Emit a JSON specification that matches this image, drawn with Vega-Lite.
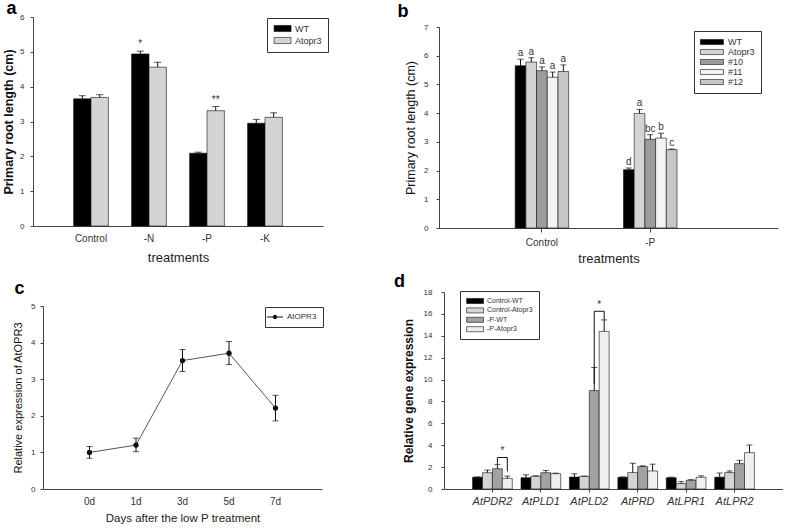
{
  "$schema": "https://vega.github.io/schema/vega-lite/v6.json",
  "background": "white",
  "padding": {"left": 2, "top": 0, "right": 0, "bottom": 0},
  "config": {
    "font": "Liberation Sans",
    "view": {"stroke": null},
    "axis": {"grid": false, "domainColor": "#444", "tickColor": "#444", "labelColor": "#333", "titleColor": "#111", "labelFontSize": 8, "tickSize": 3, "labelFont": "Liberation Sans", "titleFont": "Liberation Sans", "labelOverlap": false, "labelBound": false},
    "legend": {"labelFont": "Liberation Sans", "labelColor": "#333"},
    "title": {"font": "Liberation Sans", "color": "#000"}
  },
  "datasets": {
    "a": [
      {"treatment": "Control", "genotype": "WT", "value": 3.65, "hi": 3.74, "sig": ""},
      {"treatment": "Control", "genotype": "Atopr3", "value": 3.69, "hi": 3.77, "sig": ""},
      {"treatment": "-N", "genotype": "WT", "value": 4.94, "hi": 5.02, "sig": "*"},
      {"treatment": "-N", "genotype": "Atopr3", "value": 4.56, "hi": 4.7, "sig": ""},
      {"treatment": "-P", "genotype": "WT", "value": 2.09, "hi": 2.12, "sig": ""},
      {"treatment": "-P", "genotype": "Atopr3", "value": 3.31, "hi": 3.43, "sig": "**"},
      {"treatment": "-K", "genotype": "WT", "value": 2.95, "hi": 3.06, "sig": ""},
      {"treatment": "-K", "genotype": "Atopr3", "value": 3.12, "hi": 3.25, "sig": ""}
    ],
    "b": [
      {"treatment": "Control", "line": "WT", "value": 5.65, "hi": 5.88, "letter": "a"},
      {"treatment": "Control", "line": "Atopr3", "value": 5.78, "hi": 5.93, "letter": "a"},
      {"treatment": "Control", "line": "#10", "value": 5.48, "hi": 5.61, "letter": "a"},
      {"treatment": "Control", "line": "#11", "value": 5.25, "hi": 5.43, "letter": "a"},
      {"treatment": "Control", "line": "#12", "value": 5.45, "hi": 5.68, "letter": "a"},
      {"treatment": "-P", "line": "WT", "value": 2.03, "hi": 2.09, "letter": "d"},
      {"treatment": "-P", "line": "Atopr3", "value": 3.99, "hi": 4.13, "letter": "a"},
      {"treatment": "-P", "line": "#10", "value": 3.09, "hi": 3.25, "letter": "bc"},
      {"treatment": "-P", "line": "#11", "value": 3.13, "hi": 3.3, "letter": "b"},
      {"treatment": "-P", "line": "#12", "value": 2.73, "hi": 2.75, "letter": "c"}
    ],
    "c": [
      {"day": "0d", "value": 1.0, "lo": 0.84, "hi": 1.16, "series": "AtOPR3"},
      {"day": "1d", "value": 1.2, "lo": 1.02, "hi": 1.39, "series": "AtOPR3"},
      {"day": "3d", "value": 3.51, "lo": 3.21, "hi": 3.81, "series": "AtOPR3"},
      {"day": "5d", "value": 3.71, "lo": 3.4, "hi": 4.03, "series": "AtOPR3"},
      {"day": "7d", "value": 2.21, "lo": 1.86, "hi": 2.56, "series": "AtOPR3"}
    ],
    "d": [
      {"gene": "AtPDR2", "cond": "Control-WT", "value": 1.08, "hi": 1.1},
      {"gene": "AtPDR2", "cond": "Control-Atopr3", "value": 1.49, "hi": 1.73},
      {"gene": "AtPDR2", "cond": "-P-WT", "value": 1.85, "hi": 2.25},
      {"gene": "AtPDR2", "cond": "-P-Atopr3", "value": 0.97, "hi": 1.18},
      {"gene": "AtPLD1", "cond": "Control-WT", "value": 1.03, "hi": 1.3},
      {"gene": "AtPLD1", "cond": "Control-Atopr3", "value": 1.17, "hi": 1.2},
      {"gene": "AtPLD1", "cond": "-P-WT", "value": 1.49, "hi": 1.7},
      {"gene": "AtPLD1", "cond": "-P-Atopr3", "value": 1.4, "hi": 1.45},
      {"gene": "AtPLD2", "cond": "Control-WT", "value": 1.09, "hi": 1.4},
      {"gene": "AtPLD2", "cond": "Control-Atopr3", "value": 1.15, "hi": 1.18},
      {"gene": "AtPLD2", "cond": "-P-WT", "value": 8.99, "hi": 11.1},
      {"gene": "AtPLD2", "cond": "-P-Atopr3", "value": 14.4, "hi": 15.45},
      {"gene": "AtPRD", "cond": "Control-WT", "value": 1.07, "hi": 1.1},
      {"gene": "AtPRD", "cond": "Control-Atopr3", "value": 1.5, "hi": 2.35},
      {"gene": "AtPRD", "cond": "-P-WT", "value": 2.05, "hi": 2.12},
      {"gene": "AtPRD", "cond": "-P-Atopr3", "value": 1.65, "hi": 2.27},
      {"gene": "AtLPR1", "cond": "Control-WT", "value": 1.03, "hi": 1.08},
      {"gene": "AtLPR1", "cond": "Control-Atopr3", "value": 0.5, "hi": 0.67},
      {"gene": "AtLPR1", "cond": "-P-WT", "value": 0.8, "hi": 0.85},
      {"gene": "AtLPR1", "cond": "-P-Atopr3", "value": 1.07, "hi": 1.2},
      {"gene": "AtLPR2", "cond": "Control-WT", "value": 1.08, "hi": 1.46},
      {"gene": "AtLPR2", "cond": "Control-Atopr3", "value": 1.5, "hi": 1.65},
      {"gene": "AtLPR2", "cond": "-P-WT", "value": 2.32, "hi": 2.62},
      {"gene": "AtLPR2", "cond": "-P-Atopr3", "value": 3.32, "hi": 4.02}
    ],
    "dbr": [
      {"gene": "AtPDR2", "top": 2.88, "lo1": 2.3, "lo2": 1.6, "star": "*"},
      {"gene": "AtPLD2", "top": 16.24, "lo1": 9.6, "lo2": 15.45, "star": "*"}
    ]
  },
  "spacing": 8,
  "bounds": "full",
  "resolve": {"scale": {"color": "independent", "x": "independent", "y": "independent", "xOffset": "independent"}, "legend": {"color": "independent"}},
  "vconcat": [
    {
      "spacing": 116,
      "bounds": "flush",
      "resolve": {"scale": {"color": "independent", "x": "independent", "y": "independent", "xOffset": "independent"}, "legend": {"color": "independent"}},
      "hconcat": [
        {
          "width": 290, "height": 209,
          "title": {"text": "a", "anchor": "start", "frame": "bounds", "fontSize": 18, "fontWeight": "bold", "offset": -5, "dx": 4},
          "data": {"name": "a"},
          "encoding": {
            "x": {"field": "treatment", "type": "nominal", "sort": ["Control", "-N", "-P", "-K"],
              "scale": {"type": "band", "domain": ["Control", "-N", "-P", "-K"], "paddingInner": 0.4, "paddingOuter": 0.7},
              "axis": {"title": "treatments", "labelAngle": 0, "ticks": false, "labelFontSize": 10, "labelPadding": 7, "titleFontSize": 13, "titleFontWeight": "normal", "titlePadding": 8, "titleColor": "#222"}},
            "xOffset": {"field": "genotype", "type": "nominal", "scale": {"domain": ["WT", "Atopr3"], "paddingInner": 0, "paddingOuter": 0}}
          },
          "layer": [
            {"mark": {"type": "bar", "stroke": "#111", "strokeWidth": 0.6},
              "encoding": {
                "y": {"field": "value", "type": "quantitative", "scale": {"domain": [0, 6], "nice": false},
                  "axis": {"title": "Primary root length (cm)", "tickCount": 6, "labelOverlap": false, "labelPadding": 6, "titleFontSize": 12.5, "titleFontWeight": "bold", "titlePadding": 4}},
                "color": {"field": "genotype", "type": "nominal",
                  "scale": {"domain": ["WT", "Atopr3"], "range": ["#000000", "#d4d4d4"]},
                  "legend": {"orient": "none", "legendX": 234, "legendY": 1, "title": null, "strokeColor": "#333", "padding": 6, "symbolType": "M-1,-0.9H4V0.9H-1Z", "symbolSize": 46, "symbolStrokeColor": "#111", "symbolStrokeWidth": 0.6, "labelOffset": 13, "labelFontSize": 9, "rowPadding": 2}}
              }},
            {"mark": {"type": "rule", "color": "#111", "strokeWidth": 1},
              "encoding": {"y": {"field": "value", "type": "quantitative", "title": "Primary root length (cm)"}, "y2": {"field": "hi"}}},
            {"mark": {"type": "tick", "color": "#111", "size": 7, "thickness": 1},
              "encoding": {"y": {"field": "hi", "type": "quantitative", "title": "Primary root length (cm)"}}},
            {"mark": {"type": "text", "fontSize": 10, "dy": -2, "baseline": "bottom", "color": "#333"},
              "encoding": {"y": {"field": "hi", "type": "quantitative", "title": "Primary root length (cm)"}, "text": {"field": "sig"}}}
          ]
        },
        {
          "width": 339, "height": 211,
          "title": {"text": "b", "anchor": "start", "frame": "bounds", "fontSize": 18, "fontWeight": "bold", "offset": -4, "dx": -7},
          "data": {"name": "b"},
          "encoding": {
            "x": {"field": "treatment", "type": "nominal", "sort": ["Control", "-P"],
              "scale": {"type": "band", "domain": ["Control", "-P"], "paddingInner": 0.506, "paddingOuter": 0.818, "align": 0.43},
              "axis": {"title": "treatments", "labelAngle": 0, "tickSize": 4, "labelFontSize": 10, "labelPadding": 5, "titleFontSize": 13, "titleFontWeight": "normal", "titlePadding": 5, "titleColor": "#222"}},
            "xOffset": {"field": "line", "type": "nominal", "scale": {"domain": ["WT", "Atopr3", "#10", "#11", "#12"], "paddingInner": 0, "paddingOuter": 0}}
          },
          "layer": [
            {"mark": {"type": "bar", "stroke": "#111", "strokeWidth": 0.6},
              "encoding": {
                "y": {"field": "value", "type": "quantitative", "scale": {"domain": [0, 7], "nice": false, "range": [211, 10]},
                  "axis": {"title": "Primary root length (cm)", "tickCount": 7, "labelOverlap": false, "labelPadding": 8, "titleFontSize": 12.5, "titleFontWeight": "normal", "titlePadding": 6}},
                "color": {"field": "line", "type": "nominal",
                  "scale": {"domain": ["WT", "Atopr3", "#10", "#11", "#12"], "range": ["#000000", "#d4d4d4", "#9c9c9c", "#f3f3f3", "#c6c6c6"]},
                  "legend": {"orient": "none", "legendX": 255, "legendY": 14, "title": null, "strokeColor": "#333", "padding": 6, "symbolType": "M-1,-0.55H4V0.55H-1Z", "symbolSize": 85, "symbolStrokeColor": "#111", "symbolStrokeWidth": 0.6, "labelOffset": 18, "labelFontSize": 9, "rowPadding": 0}}
              }},
            {"mark": {"type": "rule", "color": "#111", "strokeWidth": 1},
              "encoding": {"y": {"field": "value", "type": "quantitative", "title": "Primary root length (cm)"}, "y2": {"field": "hi"}}},
            {"mark": {"type": "tick", "color": "#111", "size": 6, "thickness": 1},
              "encoding": {"y": {"field": "hi", "type": "quantitative", "title": "Primary root length (cm)"}}},
            {"mark": {"type": "text", "fontSize": 10, "dy": -1, "baseline": "bottom", "color": "#333"},
              "encoding": {"y": {"field": "hi", "type": "quantitative", "title": "Primary root length (cm)"}, "text": {"field": "letter"}}}
          ]
        }
      ]
    },
    {
      "spacing": 122,
      "bounds": "flush",
      "resolve": {"scale": {"color": "independent", "x": "independent", "y": "independent", "xOffset": "independent"}, "legend": {"color": "independent"}},
      "hconcat": [
        {
          "width": 289, "height": 197,
          "title": {"text": "c", "anchor": "start", "frame": "bounds", "fontSize": 18, "fontWeight": "bold", "offset": -6, "dx": 2},
          "data": {"name": "c"},
          "encoding": {
            "x": {"field": "day", "type": "ordinal", "sort": ["0d", "1d", "3d", "5d", "7d"], "scale": {"domain": ["0d", "1d", "3d", "5d", "7d"], "padding": 1, "range": [10, 289]},
              "axis": {"title": "Days after the low P treatment", "labelAngle": 0, "ticks": false, "labelFontSize": 10, "labelPadding": 7, "titleFontSize": 11.5, "titleFontWeight": "normal", "titlePadding": 6, "titleColor": "#222"}}
          },
          "layer": [
            {"mark": {"type": "line", "color": "#555", "strokeWidth": 1},
              "encoding": {"y": {"field": "value", "type": "quantitative", "scale": {"domain": [0, 5], "nice": false, "range": [197, 14]},
                "axis": {"title": "Relative expression of AtOPR3", "tickCount": 5, "offset": -10, "labelOverlap": false, "labelPadding": 5, "titleFontSize": 11, "titleFontWeight": "normal", "titlePadding": 7}}}},
            {"mark": {"type": "rule", "color": "#111", "strokeWidth": 1},
              "encoding": {"y": {"field": "lo", "type": "quantitative", "title": "Relative expression of AtOPR3"}, "y2": {"field": "hi"}}},
            {"mark": {"type": "tick", "color": "#111", "size": 6, "thickness": 1},
              "encoding": {"y": {"field": "lo", "type": "quantitative", "title": "Relative expression of AtOPR3"}}},
            {"mark": {"type": "tick", "color": "#111", "size": 6, "thickness": 1},
              "encoding": {"y": {"field": "hi", "type": "quantitative", "title": "Relative expression of AtOPR3"}}},
            {"mark": {"type": "point", "filled": true, "size": 28, "opacity": 1},
              "encoding": {"y": {"field": "value", "type": "quantitative", "title": "Relative expression of AtOPR3"},
                "color": {"field": "series", "type": "nominal", "scale": {"range": ["#111111"]},
                  "legend": {"orient": "none", "legendX": 232, "legendY": 15, "title": null, "strokeColor": "#333", "padding": 6, "symbolType": "M-2,-0.1H2V0.1H-2Z M0.55,0A0.55,0.55 0 1,1 -0.55,0A0.55,0.55 0 1,1 0.55,0Z", "symbolSize": 64, "symbolFillColor": "#111", "symbolStrokeWidth": 0, "labelOffset": 8, "labelFontSize": 8}}}}
          ]
        },
        {
          "width": 339, "height": 197,
          "title": {"text": "d", "anchor": "start", "frame": "bounds", "fontSize": 18, "fontWeight": "bold", "offset": -3, "dx": -8},
          "encoding": {
            "x": {"field": "gene", "type": "nominal", "sort": ["AtPDR2", "AtPLD1", "AtPLD2", "AtPRD", "AtLPR1", "AtLPR2"],
              "scale": {"type": "band", "domain": ["AtPDR2", "AtPLD1", "AtPLD2", "AtPRD", "AtLPR1", "AtLPR2"], "paddingInner": 0.18, "paddingOuter": 0.59},
              "axis": {"title": null, "labelAngle": 0, "tickSize": 3, "labelFontSize": 11, "labelFontStyle": "italic", "labelPadding": 3}}
          },
          "layer": [
            {"data": {"name": "d"},
              "encoding": {"xOffset": {"field": "cond", "type": "nominal", "scale": {"domain": ["Control-WT", "Control-Atopr3", "-P-WT", "-P-Atopr3"], "paddingInner": 0, "paddingOuter": 0}}},
              "layer": [
                {"mark": {"type": "bar", "stroke": "#111", "strokeWidth": 0.6},
                  "encoding": {
                    "y": {"field": "value", "type": "quantitative", "scale": {"domain": [0, 18], "nice": false},
                      "axis": {"title": "Relative gene expression", "tickCount": 9, "labelOverlap": false, "labelPadding": 9, "titleFontSize": 12, "titleFontWeight": "bold", "titlePadding": 8}},
                    "color": {"field": "cond", "type": "nominal",
                      "scale": {"domain": ["Control-WT", "Control-Atopr3", "-P-WT", "-P-Atopr3"], "range": ["#000000", "#d4d4d4", "#a2a2a2", "#efefef"]},
                      "legend": {"orient": "none", "legendX": 16, "legendY": -1, "title": null, "strokeColor": "#333", "padding": 6, "symbolType": "M-1,-0.75H4V0.75H-1Z", "symbolSize": 46, "symbolStrokeColor": "#111", "symbolStrokeWidth": 0.6, "labelOffset": 13, "labelFontSize": 7, "rowPadding": 1.4}}
                  }},
                {"mark": {"type": "rule", "color": "#111", "strokeWidth": 1},
                  "encoding": {"y": {"field": "value", "type": "quantitative", "title": "Relative gene expression"}, "y2": {"field": "hi"}}},
                {"mark": {"type": "tick", "color": "#111", "size": 6, "thickness": 1},
                  "encoding": {"y": {"field": "hi", "type": "quantitative", "title": "Relative gene expression"}}}
              ]
            },
            {"data": {"name": "dbr"},
              "layer": [
                {"mark": {"type": "rule", "color": "#111", "strokeWidth": 1},
                  "encoding": {"x": {"field": "gene", "type": "nominal", "bandPosition": 0.625}, "x2": {"field": "gene", "bandPosition": 0.875},
                    "y": {"field": "top", "type": "quantitative", "title": "Relative gene expression"}}},
                {"mark": {"type": "rule", "color": "#111", "strokeWidth": 1},
                  "encoding": {"x": {"field": "gene", "type": "nominal", "bandPosition": 0.625},
                    "y": {"field": "lo1", "type": "quantitative", "title": "Relative gene expression"}, "y2": {"field": "top"}}},
                {"mark": {"type": "rule", "color": "#111", "strokeWidth": 1},
                  "encoding": {"x": {"field": "gene", "type": "nominal", "bandPosition": 0.875},
                    "y": {"field": "lo2", "type": "quantitative", "title": "Relative gene expression"}, "y2": {"field": "top"}}},
                {"mark": {"type": "text", "fontSize": 10, "dy": -1, "baseline": "bottom", "color": "#333"},
                  "encoding": {"x": {"field": "gene", "type": "nominal", "bandPosition": 0.75},
                    "y": {"field": "top", "type": "quantitative", "title": "Relative gene expression"}, "text": {"field": "star"}}}
              ]
            }
          ]
        }
      ]
    }
  ]
}
